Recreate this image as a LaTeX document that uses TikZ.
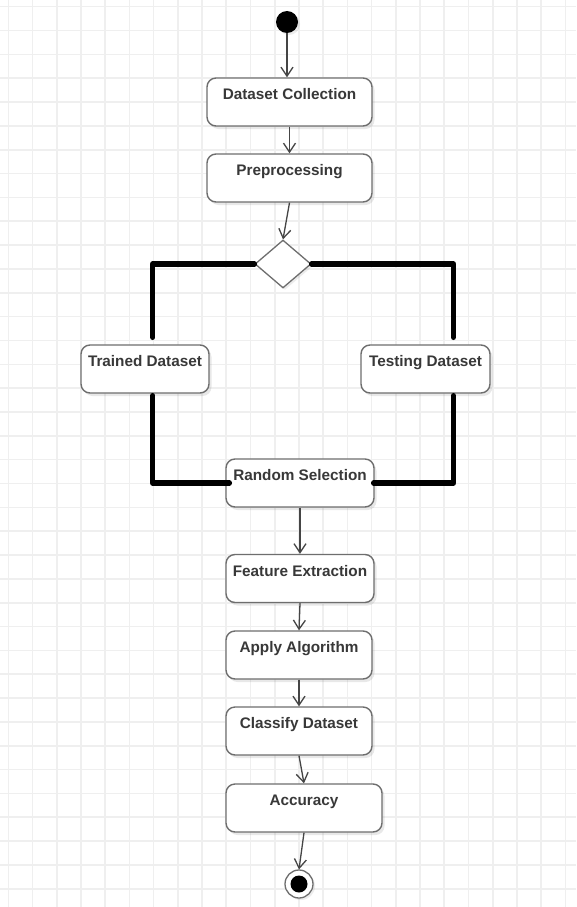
\documentclass[tikz,border=0pt]{standalone}
\usepackage{fontspec}
\setmainfont{Liberation Sans}
\usetikzlibrary{arrows.meta,shapes.geometric,shadows}
\definecolor{gridc}{HTML}{EFEFEF}
\definecolor{boxc}{HTML}{6E6E6E}
\definecolor{txtc}{HTML}{383838}
\definecolor{arrc}{HTML}{454545}
\begin{document}
\begin{tikzpicture}[x=1pt,y=-1pt,
  act/.style={draw=boxc, line width=1.4pt, rounded corners=9pt, fill=white,
    text=txtc, font=\fontsize{15.3}{18}\selectfont\bfseries,
    inner xsep=0pt, inner ysep=0pt, minimum height=0pt,
    text height=21.5pt, text depth=26.5pt,
    drop shadow={shadow xshift=2.5pt, shadow yshift=-3pt, opacity=0.18}},
  flow/.style={draw=arrc, line width=1.3pt,
    -{Straight Barb[length=9pt,width=12pt,line width=1.3pt]}},
  bar/.style={line width=5.5pt, line cap=round, line join=round, draw=black},
  gridline/.style={draw=gridc, line width=1.6pt},
  startdot/.style={circle, fill=black, minimum size=22pt, inner sep=0pt,
    drop shadow={shadow xshift=2pt, shadow yshift=-2pt, opacity=0.15}},
  endring/.style={circle, draw=boxc, line width=1.3pt, fill=white, minimum size=28pt, inner sep=0pt,
    drop shadow={shadow xshift=2pt, shadow yshift=-2pt, opacity=0.15}},
  enddot/.style={circle, fill=black, minimum size=17pt, inner sep=0pt},
  decision/.style={diamond, draw=boxc, line width=1.3pt, fill=white,
    minimum width=56pt, minimum height=48pt, inner sep=0pt,
    drop shadow={shadow xshift=2pt, shadow yshift=-2pt, opacity=0.15}}
]
\fill[white] (0,0) rectangle (576,907);
\useasboundingbox (0,0) rectangle (576,907);
% grid
\foreach \i in {0,...,23} \draw[gridline] ({8.3+24.22*\i},0) -- ({8.3+24.22*\i},907);
\foreach \j in {0,...,37} \draw[gridline] (0,{6.7+23.84*\j}) -- (576,{6.7+23.84*\j});

% nodes
\node[startdot] (start) at (287,22) {};
\node[act, minimum width=165pt] (dc) at (289.5,102) {Dataset Collection};
\node[act, minimum width=165pt] (prep) at (289.5,178) {Preprocessing};
\node[decision] (dia) at (283,264) {};
\node[act, minimum width=128pt] (trained) at (145,369) {Trained Dataset};
\node[act, minimum width=129pt] (testing) at (425.5,369) {Testing Dataset};
\node[act, minimum width=148pt] (rs) at (300,483) {Random Selection};
\node[act, minimum width=148pt] (fe) at (300,578.5) {Feature Extraction};
\node[act, minimum width=146pt] (aa) at (299,655) {Apply Algorithm};
\node[act, minimum width=146pt] (cd) at (299,731) {Classify Dataset};
\node[act, minimum width=156pt] (acc) at (304,808) {Accuracy};
\node[endring] (endc) at (299,884) {};
\node[enddot] (enddot) at (endc) {};

% thick bars
\draw[bar] (dia.west) -| ([xshift=7.7pt,yshift=7pt]trained.north);
\draw[bar] ([xshift=7.7pt,yshift=-2pt]trained.south) |- ([xshift=4pt]rs.west);
\draw[bar] (dia.east) -| ([xshift=28pt,yshift=7pt]testing.north);
\draw[bar] ([xshift=28pt,yshift=-2pt]testing.south) |- ([xshift=-1pt]rs.east);

% arrows
\draw[flow] (start) -- (start |- dc.north);
\draw[flow] (dc.south) -- (prep.north);
\draw[flow] (prep.south) -- (dia.north);
\draw[flow] (rs.south) -- (fe.north);
\draw[flow] (fe.south) -- (aa.north);
\draw[flow] (aa.south) -- (cd.north);
\draw[flow] (cd.south) -- (acc.north);
\draw[flow] (acc.south) -- (endc.north);
\end{tikzpicture}
\end{document}
